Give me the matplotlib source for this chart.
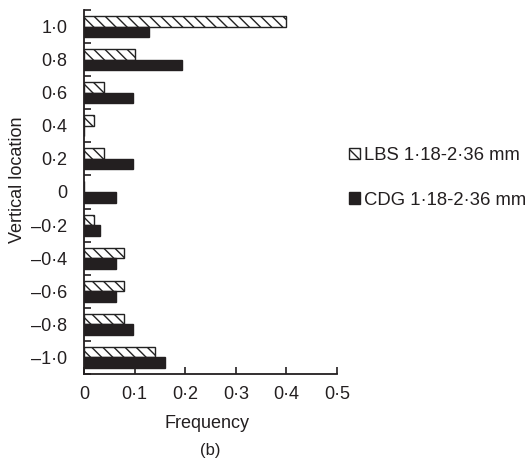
import numpy as np
import matplotlib
matplotlib.use("Agg")
import matplotlib.pyplot as plt

plt.rcParams["font.family"] = ["Liberation Sans", "DejaVu Sans"]
plt.rcParams["hatch.linewidth"] = 1.0

locations = ["–1·0", "–0·8", "–0·6", "–0·4", "–0·2", "0", "0·2", "0·4", "0·6", "0·8", "1·0"]
lbs = [0.14, 0.08, 0.08, 0.08, 0.02, 0.0, 0.04, 0.02, 0.04, 0.10, 0.40]
cdg = [0.16, 0.096, 0.063, 0.063, 0.032, 0.063, 0.096, 0.0, 0.096, 0.193, 0.128]
xticks = [0, 0.1, 0.2, 0.3, 0.4, 0.5]
xticklabels = ["0", "0·1", "0·2", "0·3", "0·4", "0·5"]

fig = plt.figure(figsize=(5.27, 4.59), dpi=100)
ax = fig.add_axes([0.1594, 0.1852, 0.4801, 0.793])

y = np.arange(len(locations))
h = 0.32
b1 = ax.barh(y + h / 2, lbs, height=h, color="white", edgecolor="#222222",
             hatch="\\\\\\", linewidth=1.0, label="LBS 1·18-2·36 mm")
b2 = ax.barh(y - h / 2, cdg, height=h, color="#231f20", edgecolor="#231f20",
             linewidth=1.0, label="CDG 1·18-2·36 mm")

ax.set_xlim(0, 0.5)
ax.set_ylim(-0.5, len(locations) - 0.5)
ax.set_xticks(xticks)
ax.set_xticklabels(xticklabels)
ax.set_yticks(y)
ax.set_yticklabels(locations)
ax.set_yticks(np.arange(-0.5, len(locations)), minor=True)

for s in ["top", "right"]:
    ax.spines[s].set_visible(False)
for s in ["left", "bottom"]:
    ax.spines[s].set_linewidth(1.3)
    ax.spines[s].set_color("#231f20")

ax.tick_params(axis="x", direction="in", length=5, width=1.2, labelsize=13, pad=9, colors="#231f20")
ax.tick_params(axis="y", which="major", length=0, labelsize=13, pad=12, colors="#231f20")
ax.tick_params(axis="y", which="minor", direction="in", length=5, width=1.2, colors="#231f20")

ax.set_xlabel("Frequency", fontsize=13, color="#231f20")
ax.xaxis.set_label_coords(0.486, -0.112)
ax.set_ylabel("Vertical location", fontsize=13, color="#231f20")
ax.yaxis.set_label_coords(-0.229, 0.533)

fig.text(210 / 527, 1 - 450 / 459, "(b)", ha="center", va="center", fontsize=12, color="#231f20")

ax.legend(handles=[b1, b2], loc="center left", bbox_to_anchor=(340 / 527, 1 - 178 / 459),
          bbox_transform=fig.transFigure, frameon=False, fontsize=13.3,
          handlelength=0.6, handleheight=0.6, handletextpad=0.2, labelspacing=1.5,
          borderpad=0, labelcolor="#231f20")

fig.savefig("out.png", dpi=100)
